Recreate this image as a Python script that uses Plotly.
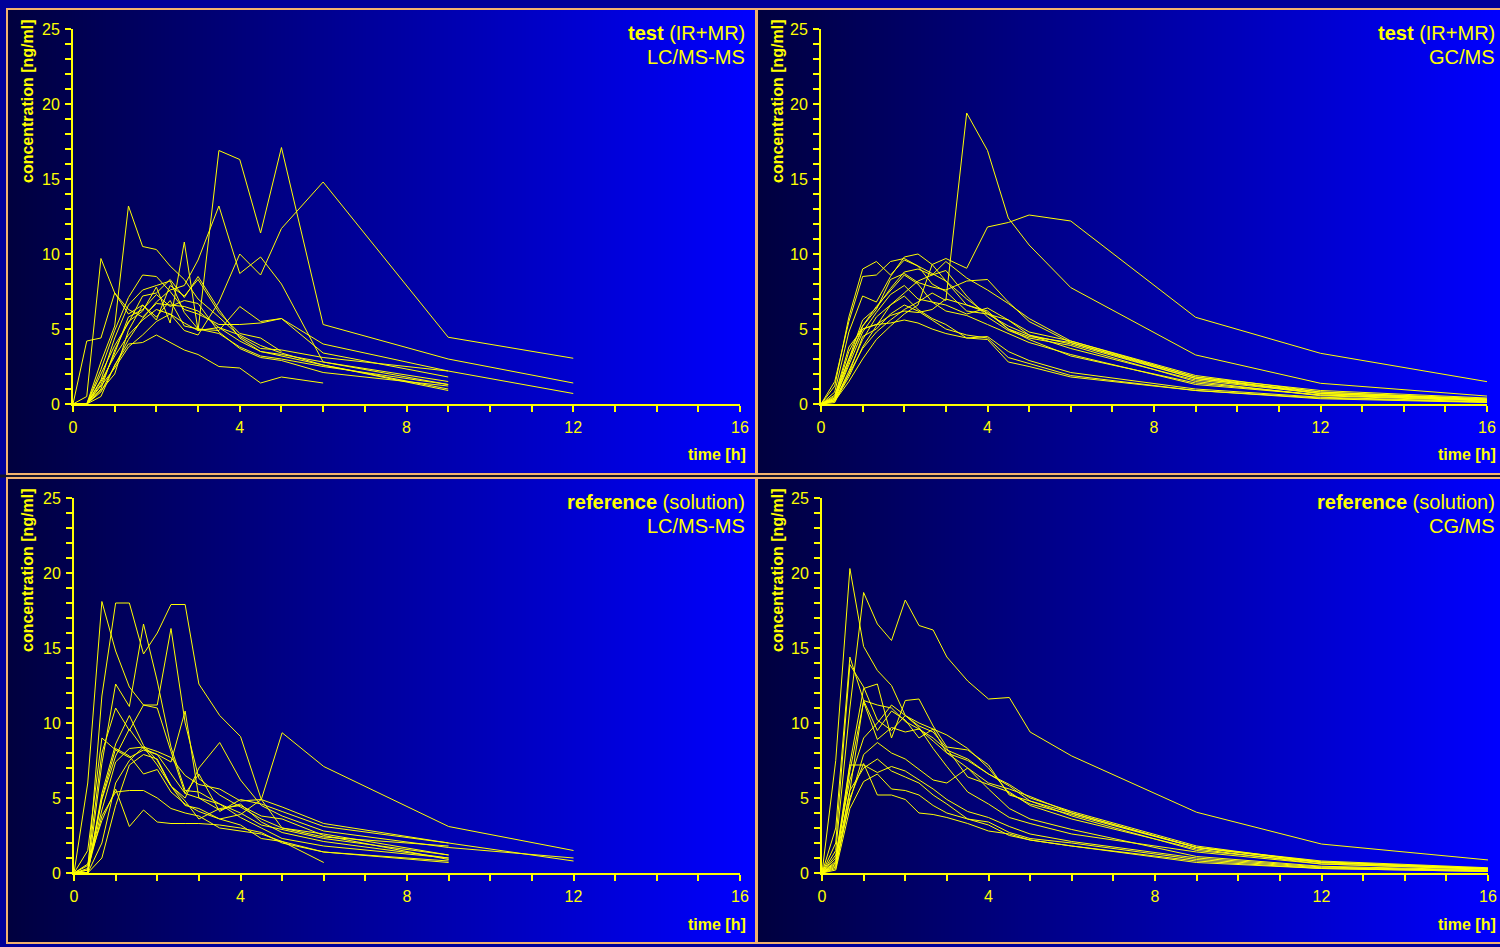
import base64
import struct
import zlib

import plotly.graph_objects as go

# Sampling times [h]
TIMES = [0, 0.33, 0.67, 1, 1.33, 1.67, 2, 2.33, 2.67, 3, 3.5, 4, 4.5, 5, 6, 9, 12, 16]

# Concentration profiles [ng/ml], one list per subject (truncated lists end early)
TEST_LCMS = [
    [0, 0.5, 9.7, 7.4, 6.0, 6.6, 5.8, 6.9, 5.2, 5.0, 4.7, 3.8, 3.2, 3.0, 2.5, 1.3],
    [0, 4.2, 4.4, 7.4, 6.3, 5.8, 6.7, 6.6, 6.5, 6.2, 5.1, 4.2, 3.5, 3.3, 2.8, 1.5],
    [0, 0, 2.8, 5.2, 13.2, 10.5, 10.3, 9.2, 8.3, 7.0, 5.8, 4.5, 3.7, 3.6, 3.1, 2.2],
    [0, 0, 1.5, 3.2, 4.6, 5.6, 6.3, 6.0, 5.4, 4.9, 16.9, 16.3, 11.4, 17.1, 5.3, 3.0, 1.4],
    [0, 0, 0.8, 2.6, 4.3, 5.7, 6.8, 7.6, 7.9, 9.6, 13.2, 8.7, 9.8, 8.0, 2.8, 1.3],
    [0, 0, 1.2, 2.4, 3.8, 4.6, 5.5, 6.0, 4.9, 4.6, 6.8, 10.0, 8.6, 11.7, 14.8, 4.45, 3.05],
    [0, 0, 1.0, 3.6, 5.5, 6.2, 7.8, 5.4, 10.8, 4.9, 5.1, 4.6, 3.9, 3.4, 2.6, 1.0],
    [0, 0, 2.3, 4.9, 7.1, 8.6, 8.5, 7.5, 6.3, 6.0, 5.3, 5.3, 5.4, 5.7, 4.0, 2.2, 0.7],
    [0, 0, 1.6, 4.4, 6.6, 7.6, 7.9, 8.2, 6.1, 5.0, 4.9, 6.5, 5.5, 5.7, 3.4, 1.8],
    [0, 0, 2.0, 3.9, 5.4, 7.2, 7.4, 8.3, 7.1, 8.5, 6.3, 4.4, 3.5, 3.2, 2.6, 0.9],
    [0, 0, 0.5, 2.6, 4.0, 4.1, 4.6, 4.1, 3.6, 3.3, 2.5, 2.4, 1.4, 1.8, 1.4],
    [0, 0, 1.3, 3.4, 5.8, 6.3, 7.3, 6.5, 6.9, 6.7, 4.8, 3.7, 3.1, 2.9, 2.1, 1.2],
    [0, 0, 0.9, 2.0, 4.9, 6.6, 5.6, 7.9, 7.2, 8.3, 6.1, 4.7, 4.4, 3.5],
]

TEST_GCMS = [
    [0, 0.3, 2.0, 3.7, 4.8, 5.6, 6.3, 6.8, 7.4, 6.9, 19.4, 16.9, 12.4, 10.6, 7.76, 3.27, 1.38, 0.53],
    [0, 0.2, 1.5, 3.0, 4.3, 5.2, 6.0, 6.6, 9.3, 9.7, 9.05, 11.8, 12.1, 12.6, 12.2, 5.78, 3.38, 1.49],
    [0, 1.2, 5.8, 9.0, 9.5, 8.6, 9.6, 9.2, 8.7, 8.2, 6.6, 6.1, 5.0, 4.5, 4.1, 1.7, 0.7, 0.3],
    [0, 1.5, 5.5, 8.5, 8.6, 9.5, 9.7, 9.2, 8.0, 7.5, 6.2, 6.0, 5.6, 4.8, 4.2, 1.8, 0.9, 0.4],
    [0, 0.8, 4.8, 7.2, 6.8, 8.5, 9.8, 10.0, 9.3, 8.2, 7.0, 6.0, 5.2, 4.6, 4.0, 1.7, 0.8, 0.3],
    [0, 0.4, 3.5, 5.2, 6.3, 8.3, 8.7, 8.1, 7.8, 7.6, 8.2, 8.3, 6.8, 5.5, 4.1, 1.8, 0.7, 0.3],
    [0, 0.6, 3.0, 5.6, 6.4, 7.7, 8.8, 9.0, 8.6, 9.5, 8.4, 7.6, 6.7, 5.7, 4.2, 1.9, 0.8, 0.35],
    [0, 0.3, 2.6, 4.8, 6.1, 7.3, 7.9, 7.0, 6.8, 6.6, 6.0, 6.4, 5.6, 4.6, 3.7, 1.6, 0.7, 0.3],
    [0, 0.5, 3.8, 5.0, 5.3, 5.9, 6.2, 6.1, 6.3, 7.0, 6.6, 6.2, 5.0, 4.3, 3.2, 1.4, 0.6, 0.25],
    [0, 0.2, 2.2, 4.3, 5.8, 6.6, 7.2, 6.3, 5.7, 5.3, 4.4, 4.5, 3.5, 2.9, 2.1, 1.0, 0.45, 0.15],
    [0, 0.4, 3.0, 5.0, 5.3, 5.4, 5.6, 5.4, 5.0, 4.7, 4.4, 4.3, 2.8, 2.5, 1.8, 0.9, 0.4, 0.12],
    [0, 0.1, 2.0, 4.5, 5.0, 6.0, 6.6, 6.2, 5.6, 5.0, 4.6, 4.4, 3.1, 2.7, 1.9, 0.9, 0.35, 0.1],
    [0, 0.3, 2.8, 5.2, 6.5, 7.6, 8.6, 8.0, 6.8, 6.2, 5.9, 5.3, 4.7, 4.1, 3.3, 1.3, 0.6, 0.25],
    [0, 0.2, 1.8, 3.8, 5.2, 6.6, 7.4, 8.2, 8.6, 8.9, 7.2, 5.8, 4.9, 4.4, 3.9, 1.5, 0.55, 0.2],
]

REF_LCMS = [
    [0, 6.0, 18.1, 14.8, 12.4, 11.2, 11.0, 8.1, 5.3, 5.0, 4.2, 4.6, 3.4, 2.7, 2.1, 1.0],
    [0, 0, 11.8, 18.0, 18.0, 14.6, 16.0, 17.9, 17.9, 12.6, 10.5, 9.1, 4.9, 9.35, 7.1, 3.1, 1.5],
    [0, 0, 7.3, 12.6, 11.1, 16.6, 12.8, 8.4, 5.5, 5.4, 4.6, 4.0, 3.2, 2.9, 2.3, 1.2],
    [0, 0.5, 8.0, 11.0, 9.5, 11.2, 11.2, 16.3, 10.0, 6.3, 5.2, 4.4, 3.6, 3.0, 2.4, 1.8],
    [0, 1.5, 9.0, 8.2, 7.7, 8.2, 7.9, 7.4, 10.8, 5.0, 4.6, 3.7, 3.0, 2.3, 1.8, 1.0],
    [0, 0, 5.3, 8.6, 10.5, 8.5, 7.5, 5.8, 5.0, 7.0, 8.7, 6.2, 4.5, 3.8, 2.8, 1.7, 1.0],
    [0, 0, 4.9, 7.8, 9.6, 8.3, 7.9, 6.6, 5.3, 6.6, 4.1, 4.9, 4.6, 4.1, 3.1, 2.0],
    [0, 0.3, 4.2, 7.4, 8.3, 8.4, 8.1, 7.7, 6.5, 5.9, 5.6, 4.8, 4.9, 4.4, 3.3, 2.0, 0.8],
    [0, 0.6, 3.5, 5.6, 3.1, 4.2, 3.4, 3.3, 3.3, 3.3, 3.2, 3.0, 2.7, 2.0, 1.4, 0.7],
    [0, 0.2, 3.8, 5.4, 5.5, 5.5, 5.0, 4.3, 4.0, 3.8, 3.0, 2.8, 2.6, 2.1, 1.4, 0.8],
    [0, 0, 2.0, 6.0, 7.5, 8.4, 7.2, 5.8, 4.5, 4.3, 3.6, 3.9, 4.9, 3.0, 2.6, 1.2],
    [0, 0, 1.0, 4.5, 7.2, 7.9, 7.6, 5.8, 4.8, 3.6, 4.3, 4.5, 3.8, 3.6, 2.5, 0.9],
    [0, 0.2, 5.0, 8.3, 7.8, 6.6, 6.9, 5.4, 4.6, 4.1, 3.6, 3.2, 2.3, 2.1, 0.7],
]

REF_GCMS = [
    [0, 7.5, 20.3, 15.1, 13.5, 12.5, 10.5, 9.7, 8.3, 7.1, 5.4, 4.6, 3.7, 3.3, 2.6, 1.4, 0.6, 0.25],
    [0, 1.5, 11.0, 18.7, 16.6, 15.5, 18.2, 16.5, 16.2, 14.4, 12.8, 11.6, 11.7, 9.4, 7.8, 4.05, 1.93, 0.87],
    [0, 3.0, 14.4, 11.5, 9.5, 10.8, 10.2, 9.0, 9.6, 8.0, 7.5, 6.6, 5.8, 4.8, 4.0, 1.7, 0.7, 0.3],
    [0, 2.0, 13.9, 12.4, 10.2, 9.5, 10.5, 10.0, 9.6, 9.2, 8.3, 7.0, 5.3, 4.6, 3.9, 1.7, 0.8, 0.35],
    [0, 1.0, 7.3, 12.3, 12.6, 9.0, 11.5, 11.6, 9.8, 8.4, 8.2, 7.2, 5.2, 4.8, 3.8, 1.5, 0.7, 0.3],
    [0, 0.8, 5.5, 11.5, 11.2, 11.0, 10.1, 9.6, 8.8, 8.0, 7.0, 6.0, 5.6, 5.1, 4.0, 1.7, 0.75, 0.3],
    [0, 1.2, 6.2, 9.0, 10.0, 11.2, 10.5, 9.8, 9.4, 8.3, 6.4, 5.9, 5.4, 4.5, 3.6, 1.6, 0.6, 0.25],
    [0, 0.5, 4.8, 7.9, 8.7, 8.0, 7.6, 6.9, 6.2, 6.0, 7.0, 5.6, 4.3, 3.6, 2.9, 1.1, 0.45, 0.2],
    [0, 0.6, 7.2, 7.2, 6.7, 7.1, 6.8, 6.2, 5.6, 4.9, 4.1, 3.7, 3.1, 2.6, 2.1, 1.0, 0.4, 0.15],
    [0, 0.3, 5.5, 7.0, 7.6, 6.8, 6.4, 6.0, 5.2, 4.6, 3.6, 3.2, 2.5, 2.2, 1.8, 0.8, 0.3, 0.1],
    [0, 0.4, 5.0, 7.3, 5.2, 5.2, 4.9, 4.0, 3.9, 3.7, 3.3, 2.8, 2.6, 2.2, 1.8, 0.7, 0.3, 0.1],
    [0, 0.2, 4.3, 6.1, 6.6, 5.6, 5.5, 5.2, 4.5, 4.0, 3.6, 3.4, 2.7, 2.3, 2.0, 0.9, 0.35, 0.15],
    [0, 0.7, 6.8, 11.4, 8.9, 9.7, 9.4, 9.6, 9.0, 8.2, 7.6, 6.6, 5.9, 5.0, 4.1, 1.8, 0.7, 0.28],
]

PANEL_DATA = [TEST_LCMS, TEST_GCMS, REF_LCMS, REF_GCMS]
PANEL_TITLES = [
    "<b>test</b> (IR+MR)",
    "<b>test</b> (IR+MR)",
    "<b>reference</b> (solution)",
    "<b>reference</b> (solution)",
]
PANEL_METHODS = ["LC/MS-MS", "GC/MS", "LC/MS-MS", "CG/MS"]
X_TITLE = "<b>time [h]</b>"
Y_TITLE = "<b>concentration [ng/ml]</b>"

W, H = 1500, 947
YELLOW = "#FFFF00"
BORDER = "#F2B26E"
FONT = "Arial, Liberation Sans, Helvetica, sans-serif"

# panel frames (left, top, right, bottom) in pixels
FRAMES = [(7, 9, 756, 474), (757, 9, 1502, 474), (7, 478, 756, 943), (757, 478, 1502, 943)]
# plot areas (left, top, right, bottom) in pixels
PLOTS = [(73, 29, 740, 404), (821, 29, 1487, 404), (74, 498, 740, 873), (822, 498, 1488, 873)]


def px(x):
    return x / W


def py(y):
    return 1 - y / H


def gradient_png(width, left, right, height=2):
    row = bytearray([0])
    for i in range(width):
        f = i / (width - 1)
        row += bytes(int(round(a + (b - a) * f)) for a, b in zip(left, right))
    raw = bytes(row) * height

    def chunk(tag, data):
        return (struct.pack(">I", len(data)) + tag + data
                + struct.pack(">I", zlib.crc32(tag + data) & 0xFFFFFFFF))

    png = (b"\x89PNG\r\n\x1a\n"
           + chunk(b"IHDR", struct.pack(">IIBBBBB", width, height, 8, 2, 0, 0, 0))
           + chunk(b"IDAT", zlib.compress(raw))
           + chunk(b"IEND", b""))
    return "data:image/png;base64," + base64.b64encode(png).decode()


GRADIENT = gradient_png(750, (0, 0, 62), (0, 0, 255))

fig = go.Figure()

axis_common = dict(
    showline=True, linecolor=YELLOW, linewidth=2,
    ticks="outside", ticklen=6, tickwidth=2, tickcolor=YELLOW,
    showgrid=False, zeroline=False, fixedrange=True, automargin=False,
    tickfont=dict(color=YELLOW, size=16, family=FONT),
)
minor_ticks = dict(ticks="outside", ticklen=6, tickwidth=2, tickcolor=YELLOW)

images, shapes, annotations = [], [], []


def text_note(text, x, y, xanchor, size, angle=0):
    return dict(text=text, textangle=angle, xref="paper", yref="paper",
                x=px(x), y=py(y), xanchor=xanchor, yanchor="middle",
                showarrow=False, font=dict(color=YELLOW, size=size, family=FONT))


for i, data in enumerate(PANEL_DATA):
    n = i + 1
    xa = "x" if n == 1 else f"x{n}"
    ya = "y" if n == 1 else f"y{n}"
    for series in data:
        fig.add_trace(go.Scatter(
            x=TIMES[:len(series)], y=series, mode="lines",
            line=dict(color=YELLOW, width=1), hoverinfo="skip",
            showlegend=False, xaxis=xa, yaxis=ya,
        ))

    l, t, r, b = PLOTS[i]
    xkey = "xaxis" if n == 1 else f"xaxis{n}"
    ykey = "yaxis" if n == 1 else f"yaxis{n}"
    fig.update_layout({
        xkey: dict(axis_common, domain=[px(l), px(r)], range=[0, 16], tick0=0, dtick=4,
                   anchor=ya, ticklabelstandoff=2, minor=dict(minor_ticks, dtick=1)),
        ykey: dict(axis_common, domain=[py(b), py(t)], range=[0, 25], tick0=0, dtick=5,
                   anchor=xa, ticklabelstandoff=2, minor=dict(minor_ticks, dtick=1)),
    })

    fl, ft, fr, fb = FRAMES[i]
    images.append(dict(source=GRADIENT, xref="paper", yref="paper",
                       x=px(fl), y=py(ft), sizex=px(fr - fl), sizey=(fb - ft) / H,
                       sizing="stretch", xanchor="left", yanchor="top", layer="below"))
    shapes.append(dict(type="rect", xref="paper", yref="paper",
                       x0=px(fl), x1=px(fr), y0=py(fb), y1=py(ft),
                       line=dict(color=BORDER, width=2), fillcolor="rgba(0,0,0,0)",
                       layer="above"))

    annotations.append(text_note(Y_TITLE, fl + 20, t + 72, "center", 16, angle=-90))
    annotations.append(text_note(X_TITLE, fl + 741, b + 51, "right", 16))
    annotations.append(text_note(PANEL_TITLES[i], fl + 740, ft + 24, "right", 20))
    annotations.append(text_note(PANEL_METHODS[i], fl + 740, ft + 48, "right", 20))

# dark seam between the upper and lower rows of panels
shapes.insert(0, dict(type="rect", xref="paper", yref="paper", x0=0, x1=1,
                      y0=py(477.5), y1=py(474.5), line=dict(width=0),
                      fillcolor="#14142a", layer="above"))

fig.update_layout(
    width=W, height=H,
    margin=dict(l=0, r=0, t=0, b=0, pad=0, autoexpand=False),
    paper_bgcolor="#000099", plot_bgcolor="rgba(0,0,0,0)",
    images=images, shapes=shapes, annotations=annotations,
    font=dict(family=FONT, color=YELLOW),
)

# page without default body margin or scrollbars
fig.write_html(
    "out.html",
    config={"displayModeBar": False},
    post_script=("document.body.style.margin='0';"
                 "document.body.style.overflow='hidden';"
                 "document.documentElement.style.overflow='hidden';"),
)
